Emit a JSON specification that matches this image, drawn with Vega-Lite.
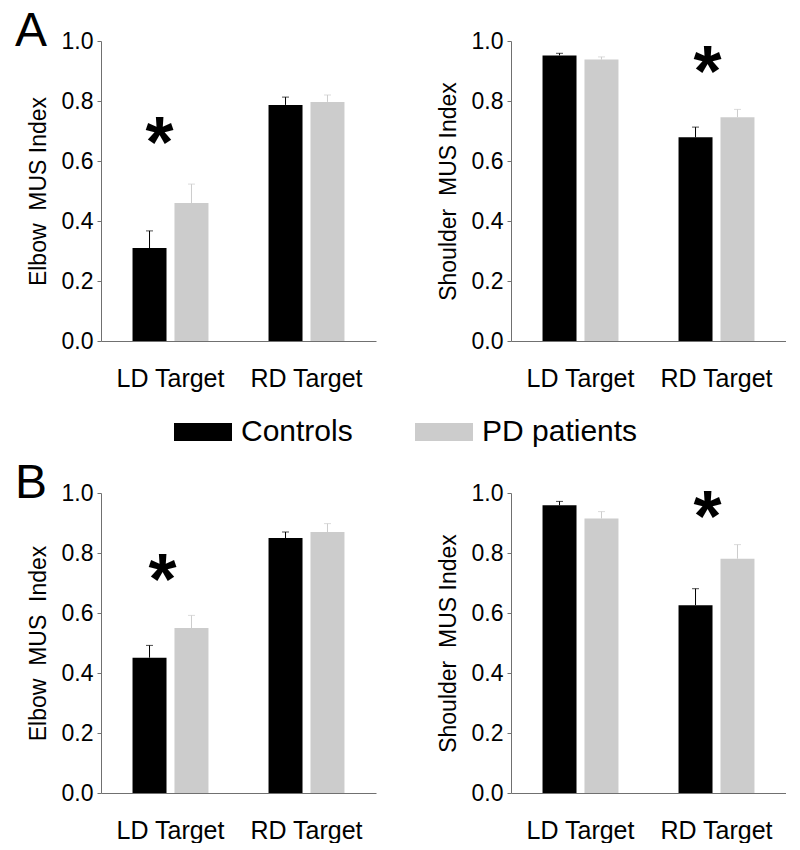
{
  "$schema": "https://vega.github.io/schema/vega-lite/v6.json",
  "padding": {"left": 15, "top": 8, "right": 0, "bottom": 0},
  "background": "white",
  "config": {
    "font": "Liberation Sans",
    "view": {"stroke": null},
    "axis": {"labelFont": "Liberation Sans", "titleFont": "Liberation Sans", "labelColor": "#000", "titleColor": "#000", "domainColor": "#707070", "tickColor": "#707070", "grid": false},
    "axisX": {"title": null, "ticks": false, "labelAngle": 0, "labelFontSize": 25, "labelPadding": 25},
    "axisY": {"labelFontSize": 23, "titleFontSize": 23, "titleFontWeight": "normal", "tickSize": 4, "labelPadding": 4, "titlePadding": 11},
    "title": {"font": "Liberation Sans", "fontWeight": "normal", "fontSize": 48, "color": "#000"}
  },
  "datasets": {
    "bars": [
      {"panel": "A-Elbow", "target": "LD Target", "group": "Controls", "value": 0.31, "upper": 0.367},
      {"panel": "A-Elbow", "target": "LD Target", "group": "PD patients", "value": 0.46, "upper": 0.523},
      {"panel": "A-Elbow", "target": "RD Target", "group": "Controls", "value": 0.787, "upper": 0.813},
      {"panel": "A-Elbow", "target": "RD Target", "group": "PD patients", "value": 0.797, "upper": 0.82},
      {"panel": "A-Shoulder", "target": "LD Target", "group": "Controls", "value": 0.952, "upper": 0.959},
      {"panel": "A-Shoulder", "target": "LD Target", "group": "PD patients", "value": 0.938, "upper": 0.947},
      {"panel": "A-Shoulder", "target": "RD Target", "group": "Controls", "value": 0.679, "upper": 0.713},
      {"panel": "A-Shoulder", "target": "RD Target", "group": "PD patients", "value": 0.746, "upper": 0.772},
      {"panel": "B-Elbow", "target": "LD Target", "group": "Controls", "value": 0.451, "upper": 0.492},
      {"panel": "B-Elbow", "target": "LD Target", "group": "PD patients", "value": 0.55, "upper": 0.592},
      {"panel": "B-Elbow", "target": "RD Target", "group": "Controls", "value": 0.85, "upper": 0.87},
      {"panel": "B-Elbow", "target": "RD Target", "group": "PD patients", "value": 0.87, "upper": 0.898},
      {"panel": "B-Shoulder", "target": "LD Target", "group": "Controls", "value": 0.959, "upper": 0.972},
      {"panel": "B-Shoulder", "target": "LD Target", "group": "PD patients", "value": 0.915, "upper": 0.938},
      {"panel": "B-Shoulder", "target": "RD Target", "group": "Controls", "value": 0.626, "upper": 0.681},
      {"panel": "B-Shoulder", "target": "RD Target", "group": "PD patients", "value": 0.781, "upper": 0.828}
    ],
    "stars": [
      {"panel": "A-Elbow", "target": "LD Target", "level": 0.70},
      {"panel": "A-Shoulder", "target": "RD Target", "level": 0.937},
      {"panel": "B-Elbow", "target": "LD Target", "level": 0.75},
      {"panel": "B-Shoulder", "target": "RD Target", "level": 0.96}
    ]
  },
  "vconcat": [
    {
      "title": {"text": "A", "anchor": "start", "frame": "bounds", "dx": -12, "dy": 26, "offset": 0},
      "spacing": 61,
      "hconcat": [
        {
          "width": 275, "height": 300,
          "layer": [
            {
              "data": {"name": "bars"},
              "transform": [{"filter": "datum.panel === 'A-Elbow'"}],
              "mark": {"type": "bar"},
              "encoding": {
                "x": {"field": "target", "type": "nominal", "scale": {"paddingInner": 0.412, "paddingOuter": 0.217}},
                "xOffset": {"field": "group", "type": "nominal", "scale": {"paddingInner": 0.19, "paddingOuter": 0.048}},
                "y": {"field": "value", "type": "quantitative", "scale": {"domain": [0, 1], "nice": false}, "axis": {"title": "Elbow\u00a0 MUS Index", "values": [0, 0.2, 0.4, 0.6, 0.8, 1.0], "format": ".1f"}},
                "color": {"field": "group", "type": "nominal", "scale": {"domain": ["Controls", "PD patients"], "range": ["#000000", "#cccccc"]}, "legend": {"orient": "none", "direction": "horizontal", "legendX": 73, "legendY": 362, "title": null, "symbolType": "M-1,-0.31L1,-0.31L1,0.31L-1,0.31Z", "symbolSize": 3364, "symbolStrokeWidth": 0, "labelFontSize": 30, "labelFont": "Liberation Sans", "labelColor": "#000", "labelOffset": 9, "columnPadding": 62}}
              }
            },
            {
              "data": {"name": "bars"},
              "transform": [{"filter": "datum.panel === 'A-Elbow'"}],
              "mark": {"type": "rule", "strokeWidth": 1},
              "encoding": {
                "x": {"field": "target", "type": "nominal"},
                "xOffset": {"field": "group", "type": "nominal"},
                "y": {"field": "value", "type": "quantitative"},
                "y2": {"field": "upper"},
                "stroke": {"condition": {"test": "datum.group === 'Controls'", "value": "#000000"}, "value": "#cccccc"}
              }
            },
            {
              "data": {"name": "bars"},
              "transform": [{"filter": "datum.panel === 'A-Elbow'"}],
              "mark": {"type": "tick", "thickness": 1, "size": 7},
              "encoding": {
                "x": {"field": "target", "type": "nominal"},
                "xOffset": {"field": "group", "type": "nominal"},
                "y": {"field": "upper", "type": "quantitative"},
                "color": {"condition": {"test": "datum.group === 'Controls'", "value": "#000000"}, "value": "#cccccc"}
              }
            },
            {
              "data": {"name": "stars"},
              "transform": [{"filter": "datum.panel === 'A-Elbow'"}],
              "mark": {"type": "text", "text": "*", "fontSize": 72, "fontWeight": "bold", "baseline": "middle", "dx": -11, "dy": 14, "color": "#000"},
              "encoding": {
                "x": {"field": "target", "type": "nominal"},
                "y": {"field": "level", "type": "quantitative"}
              }
            }
          ]
        },
        {
          "width": 275, "height": 300,
          "layer": [
            {
              "data": {"name": "bars"},
              "transform": [{"filter": "datum.panel === 'A-Shoulder'"}],
              "mark": {"type": "bar"},
              "encoding": {
                "x": {"field": "target", "type": "nominal", "scale": {"paddingInner": 0.412, "paddingOuter": 0.217}},
                "xOffset": {"field": "group", "type": "nominal", "scale": {"paddingInner": 0.19, "paddingOuter": 0.048}},
                "y": {"field": "value", "type": "quantitative", "scale": {"domain": [0, 1], "nice": false}, "axis": {"title": "Shoulder\u00a0 MUS Index", "values": [0, 0.2, 0.4, 0.6, 0.8, 1.0], "format": ".1f"}},
                "color": {"field": "group", "type": "nominal"}
              }
            },
            {
              "data": {"name": "bars"},
              "transform": [{"filter": "datum.panel === 'A-Shoulder'"}],
              "mark": {"type": "rule", "strokeWidth": 1},
              "encoding": {
                "x": {"field": "target", "type": "nominal"},
                "xOffset": {"field": "group", "type": "nominal"},
                "y": {"field": "value", "type": "quantitative"},
                "y2": {"field": "upper"},
                "stroke": {"condition": {"test": "datum.group === 'Controls'", "value": "#000000"}, "value": "#cccccc"}
              }
            },
            {
              "data": {"name": "bars"},
              "transform": [{"filter": "datum.panel === 'A-Shoulder'"}],
              "mark": {"type": "tick", "thickness": 1, "size": 7},
              "encoding": {
                "x": {"field": "target", "type": "nominal"},
                "xOffset": {"field": "group", "type": "nominal"},
                "y": {"field": "upper", "type": "quantitative"},
                "color": {"condition": {"test": "datum.group === 'Controls'", "value": "#000000"}, "value": "#cccccc"}
              }
            },
            {
              "data": {"name": "stars"},
              "transform": [{"filter": "datum.panel === 'A-Shoulder'"}],
              "mark": {"type": "text", "text": "*", "fontSize": 72, "fontWeight": "bold", "baseline": "middle", "dx": -9, "dy": 14, "color": "#000"},
              "encoding": {
                "x": {"field": "target", "type": "nominal"},
                "y": {"field": "level", "type": "quantitative"}
              }
            }
          ]
        }
      ]
    },
    {
      "title": {"text": "B", "anchor": "start", "frame": "bounds", "dx": -12, "dy": 26, "offset": 0},
      "spacing": 61,
      "hconcat": [
        {
          "width": 275, "height": 300,
          "layer": [
            {
              "data": {"name": "bars"},
              "transform": [{"filter": "datum.panel === 'B-Elbow'"}],
              "mark": {"type": "bar"},
              "encoding": {
                "x": {"field": "target", "type": "nominal", "scale": {"paddingInner": 0.412, "paddingOuter": 0.217}},
                "xOffset": {"field": "group", "type": "nominal", "scale": {"paddingInner": 0.19, "paddingOuter": 0.048}},
                "y": {"field": "value", "type": "quantitative", "scale": {"domain": [0, 1], "nice": false}, "axis": {"title": "Elbow\u00a0 MUS\u00a0 Index", "values": [0, 0.2, 0.4, 0.6, 0.8, 1.0], "format": ".1f"}},
                "color": {"field": "group", "type": "nominal"}
              }
            },
            {
              "data": {"name": "bars"},
              "transform": [{"filter": "datum.panel === 'B-Elbow'"}],
              "mark": {"type": "rule", "strokeWidth": 1},
              "encoding": {
                "x": {"field": "target", "type": "nominal"},
                "xOffset": {"field": "group", "type": "nominal"},
                "y": {"field": "value", "type": "quantitative"},
                "y2": {"field": "upper"},
                "stroke": {"condition": {"test": "datum.group === 'Controls'", "value": "#000000"}, "value": "#cccccc"}
              }
            },
            {
              "data": {"name": "bars"},
              "transform": [{"filter": "datum.panel === 'B-Elbow'"}],
              "mark": {"type": "tick", "thickness": 1, "size": 7},
              "encoding": {
                "x": {"field": "target", "type": "nominal"},
                "xOffset": {"field": "group", "type": "nominal"},
                "y": {"field": "upper", "type": "quantitative"},
                "color": {"condition": {"test": "datum.group === 'Controls'", "value": "#000000"}, "value": "#cccccc"}
              }
            },
            {
              "data": {"name": "stars"},
              "transform": [{"filter": "datum.panel === 'B-Elbow'"}],
              "mark": {"type": "text", "text": "*", "fontSize": 72, "fontWeight": "bold", "baseline": "middle", "dx": -8, "dy": 14, "color": "#000"},
              "encoding": {
                "x": {"field": "target", "type": "nominal"},
                "y": {"field": "level", "type": "quantitative"}
              }
            }
          ]
        },
        {
          "width": 275, "height": 300,
          "layer": [
            {
              "data": {"name": "bars"},
              "transform": [{"filter": "datum.panel === 'B-Shoulder'"}],
              "mark": {"type": "bar"},
              "encoding": {
                "x": {"field": "target", "type": "nominal", "scale": {"paddingInner": 0.412, "paddingOuter": 0.217}},
                "xOffset": {"field": "group", "type": "nominal", "scale": {"paddingInner": 0.19, "paddingOuter": 0.048}},
                "y": {"field": "value", "type": "quantitative", "scale": {"domain": [0, 1], "nice": false}, "axis": {"title": "Shoulder\u00a0 MUS Index", "values": [0, 0.2, 0.4, 0.6, 0.8, 1.0], "format": ".1f"}},
                "color": {"field": "group", "type": "nominal"}
              }
            },
            {
              "data": {"name": "bars"},
              "transform": [{"filter": "datum.panel === 'B-Shoulder'"}],
              "mark": {"type": "rule", "strokeWidth": 1},
              "encoding": {
                "x": {"field": "target", "type": "nominal"},
                "xOffset": {"field": "group", "type": "nominal"},
                "y": {"field": "value", "type": "quantitative"},
                "y2": {"field": "upper"},
                "stroke": {"condition": {"test": "datum.group === 'Controls'", "value": "#000000"}, "value": "#cccccc"}
              }
            },
            {
              "data": {"name": "bars"},
              "transform": [{"filter": "datum.panel === 'B-Shoulder'"}],
              "mark": {"type": "tick", "thickness": 1, "size": 7},
              "encoding": {
                "x": {"field": "target", "type": "nominal"},
                "xOffset": {"field": "group", "type": "nominal"},
                "y": {"field": "upper", "type": "quantitative"},
                "color": {"condition": {"test": "datum.group === 'Controls'", "value": "#000000"}, "value": "#cccccc"}
              }
            },
            {
              "data": {"name": "stars"},
              "transform": [{"filter": "datum.panel === 'B-Shoulder'"}],
              "mark": {"type": "text", "text": "*", "fontSize": 72, "fontWeight": "bold", "baseline": "middle", "dx": -9, "dy": 14, "color": "#000"},
              "encoding": {
                "x": {"field": "target", "type": "nominal"},
                "y": {"field": "level", "type": "quantitative"}
              }
            }
          ]
        }
      ]
    }
  ],
  "spacing": 69
}
